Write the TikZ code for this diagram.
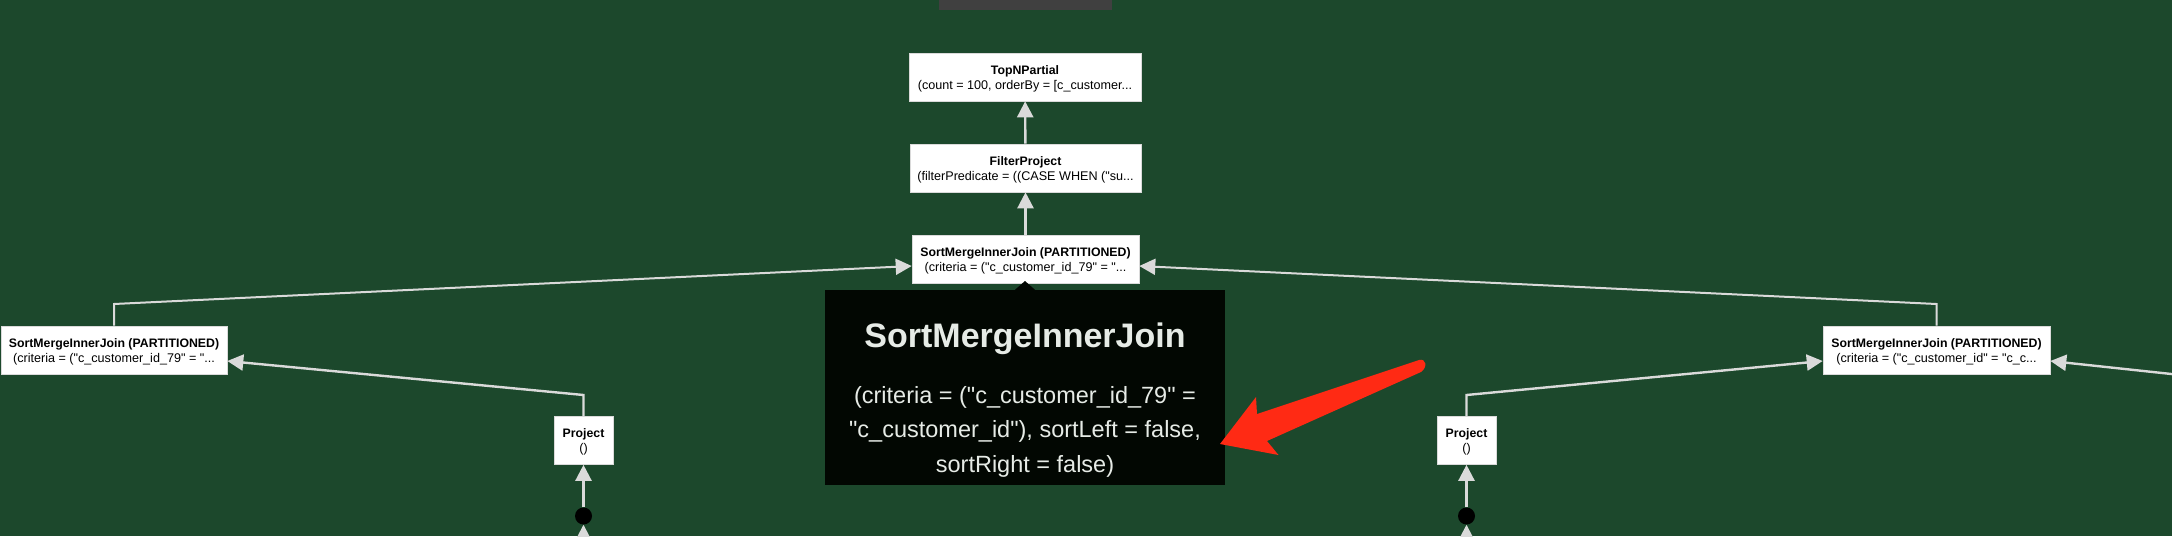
\documentclass[tikz,border=0pt]{standalone}
\usepackage{xcolor}
\usepackage{fontspec}
\setmainfont{Liberation Sans}[Ligatures=TeXOff]
\usetikzlibrary{arrows.meta}

\definecolor{planbg}{HTML}{1C482C}
\definecolor{linkgray}{HTML}{DADADA}
\definecolor{topgray}{HTML}{404040}
\definecolor{tipblack}{HTML}{020702}
\definecolor{tiptext}{HTML}{E6EBE6}
\definecolor{markred}{HTML}{FF2A14}

\newcommand{\optext}[2]{{\fontsize{12.3}{15}\selectfont\bfseries\rule{0pt}{12pt}#1}\\#2}

\tikzset{
	opbox/.style={draw=linkgray, line width=0.6pt, fill=white, text=black, inner sep=0pt,
		minimum height=48pt, align=center, font=\fontsize{12.6}{15}\selectfont},
	link/.style={draw=linkgray, line width=2.4pt, -{Triangle[length=16pt,width=16pt]}},
	longlink/.style={link, line width=2pt},
	dotnode/.style={circle, fill=black, inner sep=0pt, minimum size=17pt},
	tipbox/.style={fill=tipblack, text=tiptext, inner sep=0pt, minimum width=400pt,
		minimum height=195pt, align=center, font=\fontsize{23.5}{34.5}\selectfont},
}

\begin{document}
\begin{tikzpicture}[x=1pt,y=-1pt]
	\useasboundingbox (0,0) rectangle (2172,536);
	\clip (0,0) rectangle (2172,536);
	\fill[planbg] (0,0) rectangle (2172,536);

	\draw
	node[fill=topgray, inner sep=0pt, minimum width=173pt, minimum height=10pt] at (1025.5,5) (topbar) {}
	node[opbox, minimum width=232pt] at (1025,77) (topn) {\optext{TopNPartial}{(count = 100, orderBy = [c\_customer...}}
	node[opbox, minimum width=231pt] at (1025.5,168) (filter) {\optext{FilterProject}{(filterPredicate = ((CASE WHEN ("su...}}
	node[opbox, minimum width=227pt] at (1025.5,259) (mjoin) {\optext{SortMergeInnerJoin (PARTITIONED)}{(criteria = ("c\_customer\_id\_79" = "...}}
	node[opbox, minimum width=226pt] at (114,350) (ljoin) {\optext{SortMergeInnerJoin (PARTITIONED)}{(criteria = ("c\_customer\_id\_79" = "...}}
	node[opbox, minimum width=227pt] at (1936.5,350) (rjoin) {\optext{SortMergeInnerJoin (PARTITIONED)}{(criteria = ("c\_customer\_id" = "c\_c...}}
	node[opbox, minimum width=59pt] at (583.5,440.5) (lproj) {\optext{Project}{()}}
	node[opbox, minimum width=59pt] at (1466.5,440.5) (rproj) {\optext{Project}{()}}
	node[dotnode] at (583.5,516) (ldot) {}
	node[dotnode] at (1466.5,516) (rdot) {};

	% bends and ends off the page
	\coordinate (lbend) at (114,304);
	\coordinate (rbend) at (1936.5,304);
	\coordinate (lpbend) at (583.5,395);
	\coordinate (rpbend) at (1466.5,395);
	\coordinate (ldown) at (583.5,570);
	\coordinate (rdown) at (1466.5,570);
	\coordinate (farright) at (2190,376);

	\draw[link] (filter) -- (topn);
	\draw[link] (mjoin) -- (filter);
	\draw[longlink] (ljoin) -- (lbend) -- ([yshift=-7pt]mjoin.west);
	\draw[longlink] (rjoin) -- (rbend) -- ([yshift=-7pt]mjoin.east);
	\draw[link] (lproj) -- (lpbend) -- ([yshift=-11pt]ljoin.east);
	\draw[link] (rproj) -- (rpbend) -- ([yshift=-11pt]rjoin.west);
	\draw[link] (farright) -- ([yshift=-11pt]rjoin.east);
	\draw[link] (ldot) -- (lproj);
	\draw[link] (rdot) -- (rproj);
	\draw[link] (ldown) -- (ldot);
	\draw[link] (rdown) -- (rdot);

	% tooltip
	\node[tipbox] at (1025,387.5) (tip) {{\fontsize{34}{40}\selectfont\bfseries\rule{0pt}{50pt}SortMergeInnerJoin}\\[21pt]
		(criteria = ("c\_customer\_id\_79" =\\
		"c\_customer\_id"), sortLeft = false,\\
		sortRight = false)};
	\fill[tipblack] ([xshift=-10pt]tip.north) -- (1025,281) -- ([xshift=10pt]tip.north) -- cycle;

	% red mark
	\fill[markred] (1220,444) -- (1256,397) -- (1257,414) -- (1419,360)
		.. controls (1426,358) and (1428,367) .. (1421,372)
		-- (1267,441) -- (1278.5,455) -- cycle;
\end{tikzpicture}
\end{document}
